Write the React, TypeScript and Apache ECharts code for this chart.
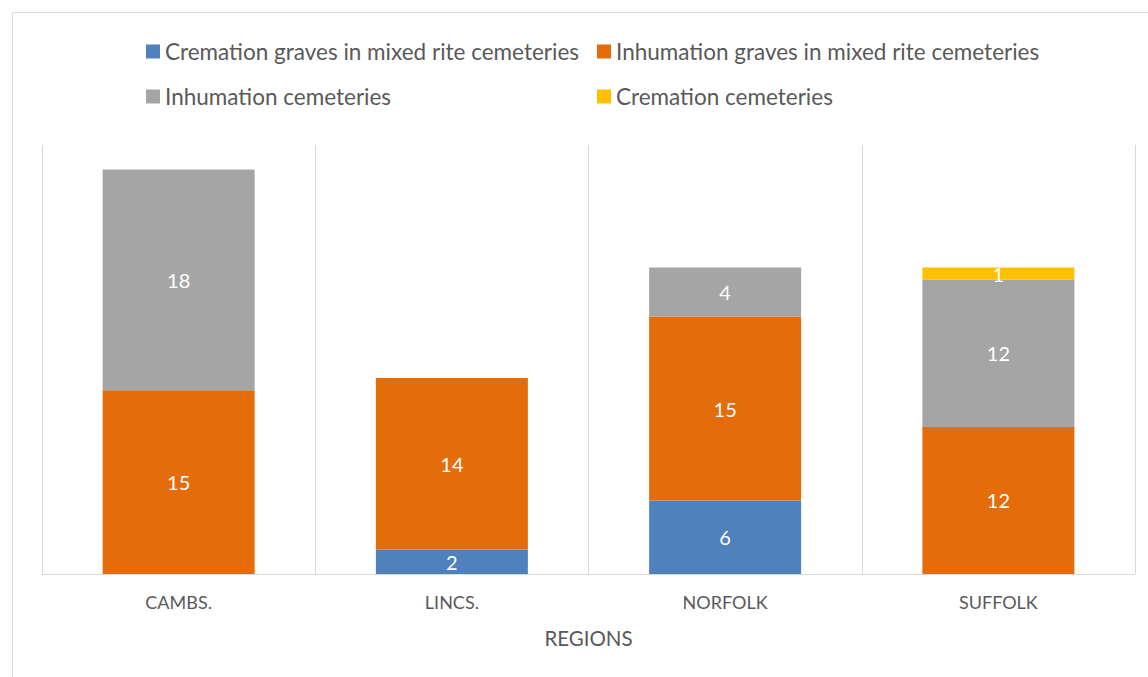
import React, { useEffect, useRef } from "react";
import * as echarts from "echarts";

const categories = ["CAMBS.", "LINCS.", "NORFOLK", "SUFFOLK"];
const seriesNames = [
  "Cremation graves in mixed rite cemeteries",
  "Inhumation graves in mixed rite cemeteries",
  "Inhumation cemeteries",
  "Cremation cemeteries",
];
const cremationMixed = [0, 2, 6, 0];
const inhumationMixed = [15, 14, 15, 12];
const inhumationCemeteries = [18, 0, 4, 12];
const cremationCemeteries = [0, 0, 0, 1];
const seriesValues = [cremationMixed, inhumationMixed, inhumationCemeteries, cremationCemeteries];
const colors = ["#4F81BD", "#E46C0A", "#A5A5A5", "#FFC000"];

const FONT = "Lato, 'Noto Sans', sans-serif";
const TEXT = "#595959";
const GRID = "#D9D9D9";

export default function App() {
  const ref = useRef<HTMLDivElement>(null);
  useEffect(() => {
    if (!ref.current) return;
    const chart = echarts.init(ref.current, null, { renderer: "svg" });
    const legendPos = [
      { left: 146, top: 40 },
      { left: 597, top: 40 },
      { left: 146, top: 85 },
      { left: 597, top: 85 },
    ];
    chart.setOption({
      animation: false,
      textStyle: { fontFamily: FONT },
      legend: seriesNames.map((n, i) => ({
        data: [n],
        left: legendPos[i].left,
        top: legendPos[i].top,
        padding: 0,
        itemWidth: 14,
        itemHeight: 14,
        itemGap: 6,
        icon: "rect",
        textStyle: { fontSize: 22.5, color: TEXT, fontFamily: FONT, lineHeight: 22 },
      })),
      graphic: [
        {
          type: "rect",
          shape: { x: 12.5, y: 12.5, width: 1160, height: 700 },
          style: { fill: "none", stroke: GRID, lineWidth: 1 },
          silent: true,
        },
      ],
      grid: { left: 42, right: 13, top: 145, bottom: 103, containLabel: false },
      xAxis: {
        type: "category",
        data: categories,
        name: "REGIONS",
        nameLocation: "middle",
        nameGap: 53,
        nameTextStyle: { fontSize: 20.5, color: TEXT, fontFamily: FONT },
        axisLine: { lineStyle: { color: GRID, width: 1 } },
        axisTick: { show: false },
        axisLabel: { fontSize: 18, color: TEXT, margin: 19, fontFamily: FONT },
        splitLine: { show: true, lineStyle: { color: GRID, width: 1 } },
      },
      yAxis: {
        type: "value",
        min: 0,
        max: 35,
        show: false,
        splitLine: { show: false },
      },
      series: seriesNames.map((n, i) => ({
        name: n,
        type: "bar",
        stack: "total",
        barWidth: 152,
        data: seriesValues[i],
        itemStyle: { color: colors[i] },
        label: {
          show: true,
          position: "inside",
          color: "#FFFFFF",
          fontSize: 20,
          fontFamily: FONT,
          formatter: (p: any) => (p.value ? String(p.value) : ""),
        },
      })),
    });
    return () => chart.dispose();
  }, []);
  return (
    <div
      ref={ref}
      style={{ position: "absolute", left: 0, top: 0, width: 1148, height: 677, background: "#fff" }}
    />
  );
}
